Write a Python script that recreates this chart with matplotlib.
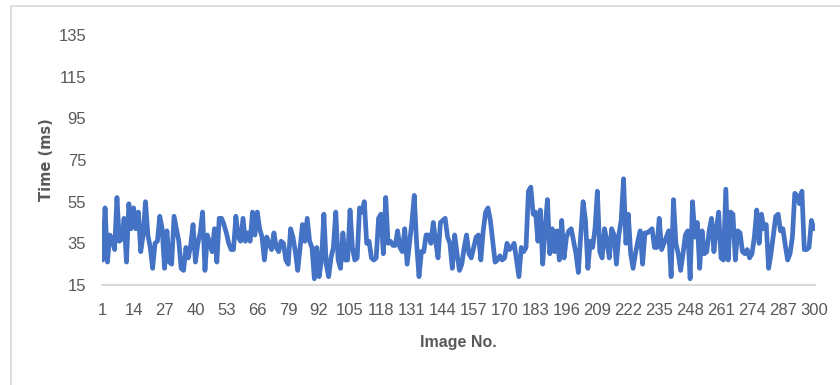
import matplotlib
matplotlib.use("Agg")
import matplotlib.pyplot as plt
from matplotlib.patches import Rectangle

# ---- data ----
image_no = list(range(1, 301))
time_ms = [
    27, 52, 26, 39, 37, 32, 57, 36, 37, 47,   # 1-10
    26, 54, 42, 52, 42, 50, 31, 39, 55, 39,   # 11-20
    33, 23, 35, 36, 48, 42, 23, 41, 26, 25,   # 21-30
    48, 42, 36, 23, 22, 33, 28, 34, 44, 26,   # 31-40
    35, 40, 50, 22, 39, 35, 31, 42, 26, 47,   # 41-50
    47, 44, 40, 35, 32, 32, 48, 38, 36, 47,   # 51-60
    36, 40, 36, 50, 39, 50, 42, 38, 27, 38,   # 61-70
    35, 32, 40, 33, 31, 36, 35, 27, 25, 42,   # 71-80
    38, 31, 22, 33, 44, 36, 47, 36, 33, 18,   # 81-90
    33, 19, 27, 49, 25, 19, 28, 33, 50, 27,   # 91-100
    23, 40, 27, 27, 51, 33, 27, 28, 52, 50,   # 101-110
    55, 35, 36, 28, 27, 28, 47, 49, 30, 57,   # 111-120
    35, 36, 34, 34, 41, 33, 31, 42, 25, 35,   # 121-130
    45, 58, 35, 19, 31, 31, 39, 39, 35, 45,   # 131-140
    36, 28, 45, 46, 47, 38, 35, 23, 39, 30,   # 141-150
    22, 25, 33, 39, 30, 28, 33, 38, 39, 27,   # 151-160
    41, 50, 52, 46, 36, 26, 27, 29, 27, 28,   # 161-170
    35, 32, 33, 35, 27, 19, 33, 31, 33, 60,   # 171-180
    62, 49, 50, 36, 51, 25, 42, 56, 30, 42,   # 181-190
    31, 41, 27, 46, 28, 38, 41, 42, 36, 30,   # 191-200
    21, 39, 55, 46, 23, 36, 33, 42, 60, 31,   # 201-210
    28, 42, 36, 28, 42, 39, 25, 39, 46, 66,   # 211-220
    35, 49, 30, 23, 30, 36, 41, 25, 40, 40,   # 221-230
    41, 42, 33, 33, 47, 32, 35, 38, 41, 19,   # 231-240
    56, 35, 30, 22, 30, 39, 41, 18, 55, 38,   # 241-250
    45, 23, 41, 30, 31, 41, 47, 31, 42, 50,   # 251-260
    28, 27, 61, 27, 50, 49, 27, 41, 40, 31,   # 261-270
    30, 32, 28, 30, 38, 51, 35, 49, 42, 44,   # 271-280
    23, 30, 39, 48, 49, 41, 42, 34, 27, 30,   # 281-290
    38, 59, 58, 54, 60, 32, 32, 33, 46, 42,   # 291-300
]
x_tick_labels = [str(v) for v in range(1, 301, 13)]
y_ticks = [15, 35, 55, 75, 95, 115, 135]

# ---- styling ----
W, H = 840, 385
font_main = ["Liberation Sans Narrow", "Liberation Sans", "DejaVu Sans"]
grey_text = "#595959"

fig = plt.figure(figsize=(W / 100, H / 100), dpi=100)
ax = fig.add_axes([101.5 / W, 1 - 285 / H, (815 - 101.5) / W, (285 - 35) / H])

ax.plot(image_no, time_ms, color="#4472C4", linewidth=3.4,
        solid_joinstyle="round", solid_capstyle="round")

ax.set_xlim(0.5, 300.5)
ax.set_ylim(15, 135)
ax.set_yticks(y_ticks)
ax.set_yticklabels([str(v) for v in y_ticks], family=font_main, fontsize=12,
                   color=grey_text)
ax.set_xticks(list(range(1, 301, 13)))
ax.set_xticklabels(x_tick_labels, family=font_main, fontsize=12, color=grey_text)
ax.tick_params(axis="both", length=0)
ax.tick_params(axis="x", pad=13)
ax.tick_params(axis="y", pad=11)

for s in ["top", "right", "left"]:
    ax.spines[s].set_visible(False)
ax.spines["bottom"].set_color("#D9D9D9")
ax.spines["bottom"].set_linewidth(1.5)
ax.spines["bottom"].set_zorder(0)
ax.set_facecolor("none")

fig.text(46.5 / W, 1 - 160 / H, "Time (ms)", rotation=90, ha="center",
         va="center", fontsize=10.5, fontweight="bold", color=grey_text,
         family=["DejaVu Sans"])
fig.text(458 / W, 1 - 343 / H, "Image No.", ha="center", va="center",
         fontsize=11.5, fontweight="semibold", color=grey_text, family=font_main)

# chart border (partially visible in reference)
fig.patches.append(Rectangle((10.5 / W, -0.1), 1.2, 1 - 6 / H + 0.1,
                             transform=fig.transFigure, fill=False,
                             edgecolor="#D9D9D9", linewidth=1.2))

fig.savefig("out.png", dpi=100)
